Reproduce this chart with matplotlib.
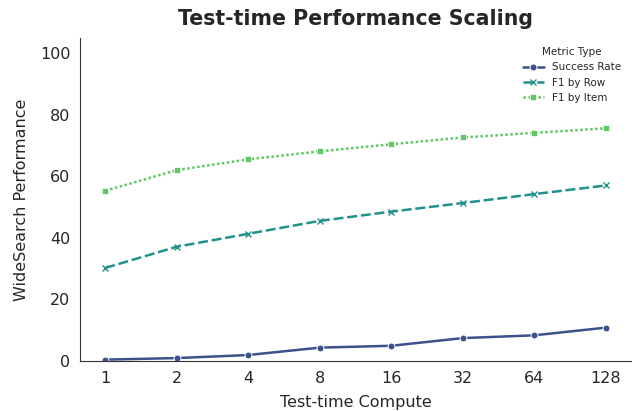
import matplotlib.pyplot as plt
import seaborn as sns

compute = ["1", "2", "4", "8", "16", "32", "64", "128"]
success_rate = [0.4, 0.9, 1.9, 4.3, 4.9, 7.4, 8.3, 10.8]
f1_by_row = [30.2, 37.1, 41.3, 45.5, 48.5, 51.3, 54.2, 57.0]
f1_by_item = [55.3, 62.0, 65.5, 68.1, 70.4, 72.6, 74.1, 75.6]

sns.set_style("white")
plt.rcParams["font.family"] = ["DejaVu Sans"]

colors = sns.color_palette("viridis", 3)

fig = plt.figure(figsize=(6.32, 4.11), dpi=100)
ax = fig.add_axes([0.127, 0.122, 0.871, 0.786])

x = list(range(len(compute)))
ax.plot(x, success_rate, color=colors[0], linestyle="-", marker="o",
        markersize=5, markeredgecolor="white", markeredgewidth=0.7,
        linewidth=1.8, label="Success Rate")
ax.plot(x, f1_by_row, color=colors[1], linestyle=(0, (4, 1.5)), marker="x",
        markersize=4, markeredgewidth=1.0, linewidth=1.8, label="F1 by Row")
ax.plot(x, f1_by_item, color=colors[2], linestyle=(0, (1, 1)), marker="s",
        markersize=4, markeredgecolor="white", markeredgewidth=0.5,
        linewidth=1.8, label="F1 by Item")

ax.set_xticks(x)
ax.set_xticklabels(compute)
ax.set_xlim(-0.35, 7.35)
ax.set_ylim(0, 105)
ax.set_yticks([0, 20, 40, 60, 80, 100])
ax.tick_params(labelsize=11.5)

ax.set_xlabel("Test-time Compute", fontsize=11.5, labelpad=7)
ax.set_ylabel("WideSearch Performance", fontsize=11.5, labelpad=8)
ax.set_title("Test-time Performance Scaling", fontsize=14.8, fontweight="bold", pad=9)

leg = ax.legend(title="Metric Type", loc="upper right", frameon=False,
                fontsize=7.5, title_fontsize=7.5)

sns.despine(ax=ax)
for s in ["left", "bottom"]:
    ax.spines[s].set_color("#333333")

fig.savefig("out.png", dpi=100)
